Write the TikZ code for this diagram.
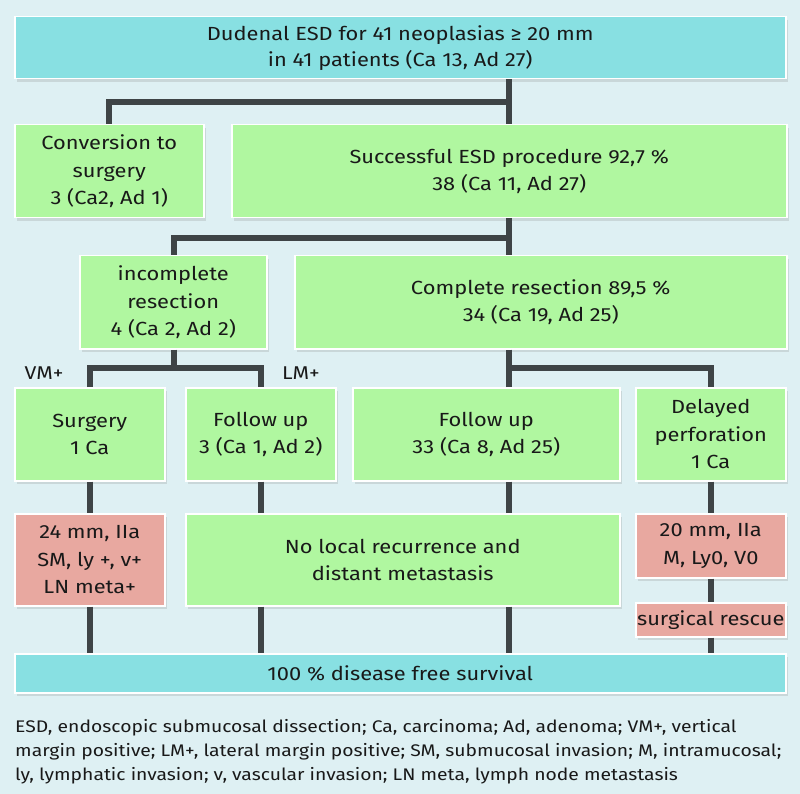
\documentclass[tikz,border=0pt]{standalone}
\usepackage{fontspec}
\setmainfont{Fira Sans}[FakeStretch=1.15]
\usetikzlibrary{shadows}
\definecolor{bgc}{RGB}{222,240,243}
\definecolor{cyanbox}{RGB}{136,224,226}
\definecolor{greenbox}{RGB}{176,247,160}
\definecolor{redbox}{RGB}{232,168,160}
\definecolor{linec}{RGB}{62,68,70}
\tikzset{
  boxbase/.style={anchor=north west, draw=white, line width=1.5pt, inner sep=0pt, align=center,
     font=\fontsize{19}{27.5}\selectfont, text=black!90,
     drop shadow={opacity=0.22, shadow xshift=2pt, shadow yshift=-3pt}},
  cbox/.style={boxbase, fill=cyanbox},
  gbox/.style={boxbase, fill=greenbox},
  rbox/.style={boxbase, fill=redbox},
  conn/.style={draw=linec, line width=6pt},
  lbl/.style={font=\fontsize{18.5}{22}\selectfont, inner sep=0pt, text=black!90},
}
\begin{document}
\begin{tikzpicture}[x=1pt,y=-1pt]
\fill[bgc] (0,0) rectangle (800,794);
\useasboundingbox (0,0) rectangle (800,794);
% row 1
\node[cbox, minimum width=771pt, minimum height=62pt, font=\fontsize{19}{26}\selectfont] (top) at (14,16) {Dudenal ESD for 41 neoplasias ≥ 20 mm\\in 41 patients (Ca 13, Ad 27)};
% row 2
\node[gbox, minimum width=189pt, minimum height=93pt] (conv) at (14,124) {Conversion to\\surgery\\3 (Ca2, Ad 1)};
\node[gbox, minimum width=555pt, minimum height=93pt] (succ) at (231,124) {Successful ESD procedure 92,7 \%\\38 (Ca 11, Ad 27)};
% row 3
\node[gbox, minimum width=187pt, minimum height=93pt] (inc) at (79,255) {incomplete\\resection\\4 (Ca 2, Ad 2)};
\node[gbox, minimum width=492pt, minimum height=93pt] (comp) at (294,255) {Complete resection 89,5 \%\\34 (Ca 19, Ad 25)};
% row 4
\node[gbox, minimum width=150pt, minimum height=93pt] (surg) at (14,387) {Surgery\\1 Ca};
\node[gbox, minimum width=150pt, minimum height=93pt] (fu1) at (185,387) {Follow up\\3 (Ca 1, Ad 2)};
\node[gbox, minimum width=267pt, minimum height=93pt] (fu2) at (352,387) {Follow up\\33 (Ca 8, Ad 25)};
\node[gbox, minimum width=150pt, minimum height=93pt] (del) at (635,387) {Delayed\\perforation\\1 Ca};
% row 5
\node[rbox, minimum width=150pt, minimum height=92pt] (red1) at (14,513) {24 mm, IIa\\SM, ly +, v+\\LN meta+};
\node[gbox, minimum width=434pt, minimum height=92pt] (nolocal) at (185,513) {No local recurrence and\\distant metastasis};
\node[rbox, minimum width=150pt, minimum height=64pt] (red2) at (635,513) {20 mm, IIa\\M, Ly0, V0};
\node[rbox, minimum width=150pt, minimum height=34pt] (resc) at (635,602) {surgical rescue};
% bottom
\node[cbox, minimum width=771pt, minimum height=39pt] (bot) at (14,653) {100 \% disease free survival};
% labels
\node[lbl] (vm) at (44,373) {VM+};
\node[lbl] (lm) at (301,373) {LM+};
% connectors
\coordinate (j1) at (509,102);
\coordinate (j2) at (509,238);
\coordinate (j3) at (173.5,368);
\coordinate (j4) at (509,368);
\draw[conn] (top.south -| j1) -- (j1);
\draw[conn] (conv.north) |- (j1) -- (succ.north -| j1);
\draw[conn] (succ.south -| j2) -- (j2);
\draw[conn] (inc.north -| j3) |- (j2) -- (comp.north -| j2);
\draw[conn] (inc.south -| j3) -- (j3);
\draw[conn] (surg.north) |- (j3) -| (fu1.north);
\draw[conn] (comp.south -| j4) -- (j4);
\draw[conn] (fu2.north -| j4) -- (j4) -| (del.north);
\draw[conn] (surg.south) -- (red1.north);
\draw[conn] (fu1.south) -- (nolocal.north -| fu1.south);
\draw[conn] (fu2.south -| j4) -- (nolocal.north -| j4);
\draw[conn] (del.south) -- (red2.north);
\draw[conn] (red2.south) -- (resc.north);
\draw[conn] (red1.south) -- (bot.north -| red1.south);
\draw[conn] (nolocal.south -| fu1.south) -- (bot.north -| fu1.south);
\draw[conn] (nolocal.south -| j4) -- (bot.north -| j4);
\draw[conn] (resc.south) -- (bot.north -| resc.south);
% footnote
\node[anchor=north west, inner sep=0pt, align=left, font=\fontsize{16.8}{24}\selectfont, text=black!90] (foot) at (15,719)
 {ESD, endoscopic submucosal dissection; Ca, carcinoma; Ad, adenoma; VM+, vertical\\
  margin positive; LM+, lateral margin positive; SM, submucosal invasion; M, intramucosal;\\
  ly, lymphatic invasion; v, vascular invasion; LN meta, lymph node metastasis};
\end{tikzpicture}
\end{document}
